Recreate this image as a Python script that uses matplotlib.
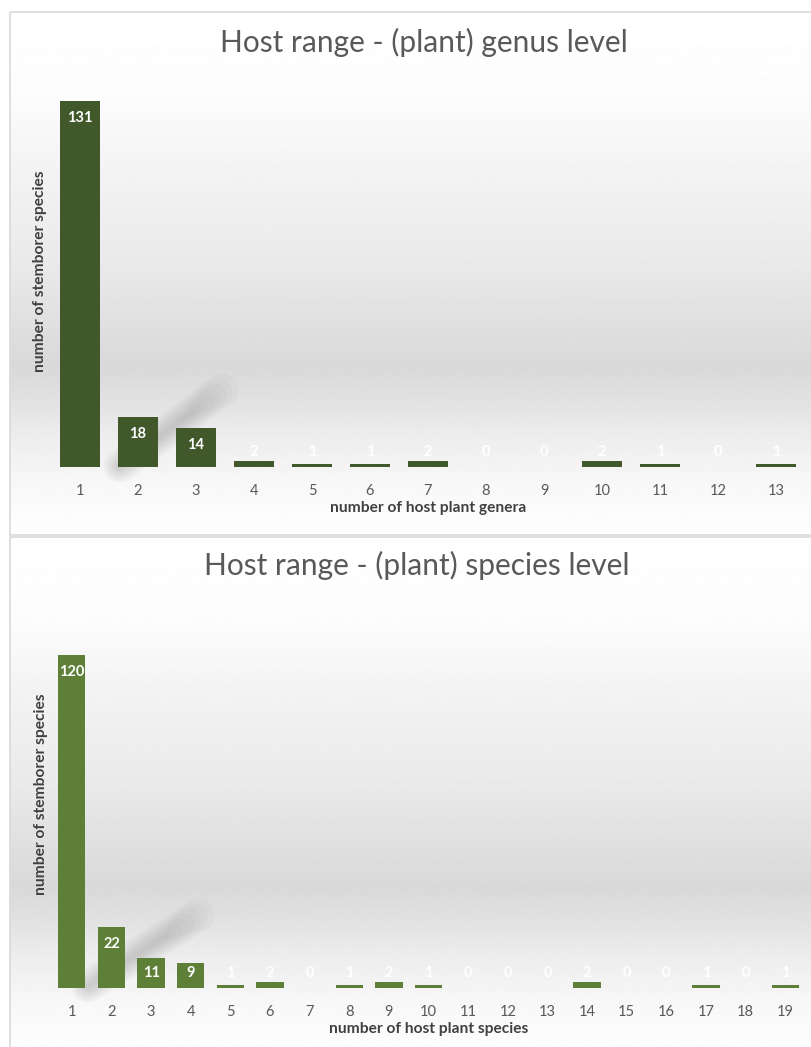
import numpy as np
import matplotlib.pyplot as plt
from matplotlib.patches import Rectangle

# data
genera_x = list(range(1, 14))
genera_counts = [131, 18, 14, 2, 1, 1, 2, 0, 0, 2, 1, 0, 1]

species_x = list(range(1, 20))
species_counts = [120, 22, 11, 9, 1, 2, 0, 1, 2, 1, 0, 0, 0, 2, 0, 0, 1, 0, 1]

FONT = ['Lato', 'DejaVu Sans']
plt.rcParams['font.family'] = FONT

W, H = 812, 1047
fig = plt.figure(figsize=(W / 100, H / 100), dpi=100)

# background layer in pixel coordinates (panels, gradients, shadows)
bg = fig.add_axes([0, 0, 1, 1], zorder=0)
bg.set_xlim(0, W)
bg.set_ylim(H, 0)
bg.axis('off')


def panel_background(y0, y1, peak):
    yy = np.linspace(y0, y1, 600)
    g = np.interp(yy,
                  [y0, y0 + 80, peak - 200, peak - 100, peak, peak + 30, peak + 70, peak + 115, y1],
                  [1.0, 0.99, 0.955, 0.915, 0.85, 0.88, 0.93, 0.97, 1.0])
    bg.imshow(g[:, None], cmap='gray', vmin=0, vmax=1, aspect='auto',
              extent=[10, 840, y1, y0], origin='upper', interpolation='bilinear')
    bg.add_patch(Rectangle((10, y0), 830, y1 - y0, fill=False,
                           edgecolor='#d9d9d9', lw=1.2))


def shadow(x0, y0, x1, y1):
    # soft diagonal shadow: stacked translucent strokes, shorter ones darker
    for k, lw in enumerate(range(24, 2, -3)):
        t = 0.04 * k
        bg.plot([x0, x1 - (x1 - x0) * t], [y0, y1 - (y1 - y0) * t],
                color='#606060', lw=lw, alpha=0.035, solid_capstyle='round')


panel_background(12, 535, 367)
panel_background(537, 1060, 887)
shadow(120, 466, 222, 390)
shadow(88, 986, 198, 915)


def bar_panel(rect, xs, counts, color, title, title_x, title_y, xlabel):
    ax = fig.add_axes(rect, zorder=2)
    ax.patch.set_alpha(0)
    ax.bar(xs, counts, width=0.69, color=color, zorder=3)
    ax.set_xlim(0.5, len(xs) + 0.5)
    ax.set_ylim(0, 140)
    for s in ax.spines.values():
        s.set_visible(False)
    ax.set_yticks([])
    ax.set_xticks(xs)
    ax.set_xticklabels([str(x) for x in xs])
    ax.tick_params(axis='x', length=0, pad=12, labelsize=10.5, labelcolor='#595959')

    ppu = ax.bbox.height / 140.0
    for x, v in zip(xs, counts):
        off = max(v * ppu - 17, 15) * 0.72
        ax.annotate(str(v), xy=(x, 0), xytext=(0, off), textcoords='offset points',
                    ha='center', va='center', color='white', fontsize=10.5,
                    fontweight='bold')

    ax.set_xlabel(xlabel, fontsize=11.2, fontweight='bold', color='#404040', va='center')
    ax.xaxis.set_label_coords(0.5, -41 / ax.bbox.height)
    ax.set_ylabel('number of stemborer species', fontsize=11.2, fontweight='bold',
                  color='#404040', va='center')
    ax.yaxis.set_label_coords(-11 / ax.bbox.width, 0.5)

    fig.text(title_x / W, 1 - title_y / H, title, ha='center', va='center',
             fontsize=21.5, color='#595959')
    return ax


bar_panel([51 / W, 1 - 467 / H, 754 / W, 391 / H], genera_x, genera_counts,
          '#41592a', 'Host range - (plant) genus level', 424, 42,
          'number of host plant genera')
bar_panel([52 / W, 1 - 988 / H, 753 / W, 388 / H], species_x, species_counts,
          '#5e7f38', 'Host range - (plant) species level', 417, 565,
          'number of host plant species')

fig.savefig('out.png', dpi=100)
